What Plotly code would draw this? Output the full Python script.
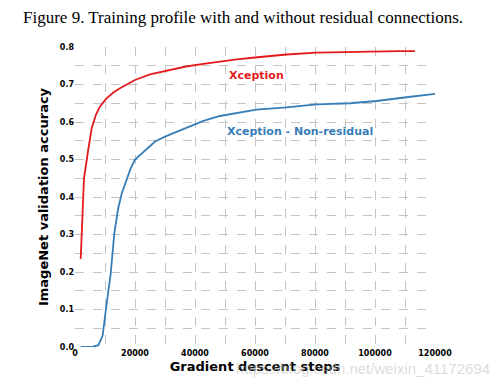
import plotly.graph_objects as go

# Xception (with residual connections)
res_steps = [1900, 3000, 4300, 5600, 7000, 8300, 10500, 13000, 15000, 17500, 20000, 25000,
             31700, 37000, 42800, 48000, 53900, 60000, 65000, 70500, 80500, 90000, 100000, 108000, 113300]
res_acc = [0.235, 0.45, 0.52, 0.585, 0.62, 0.641, 0.663, 0.68, 0.69, 0.702, 0.712, 0.727,
           0.739, 0.748, 0.755, 0.761, 0.767, 0.772, 0.776, 0.780, 0.785, 0.787, 0.788, 0.789, 0.789]

# Xception - Non-residual
nores_steps = [1900, 4000, 6000, 7800, 9200, 10300, 11900, 13100, 14400, 15600, 17200, 18500,
               20000, 22200, 24400, 26700, 30000, 33500, 37200, 42800, 48300, 56100, 60500,
               70500, 80500, 91700, 100500, 110500, 120000]
nores_acc = [0.0, 0.0, 0.001, 0.005, 0.03, 0.1, 0.196, 0.303, 0.37, 0.41, 0.447, 0.475,
             0.5, 0.516, 0.53, 0.548, 0.561, 0.573, 0.586, 0.603, 0.616, 0.627, 0.633,
             0.639, 0.647, 0.65, 0.656, 0.666, 0.675]

series_names = ["Xception", "Xception - Non-residual"]
series_colors = ["#e41a1c", "#377eb8"]

W, H = 494, 376
ML, MR, MT, MB = 67, 67, 39, 37
PW, PH = W - ML - MR, H - MT - MB

fig = go.Figure()
fig.add_trace(go.Scatter(x=res_steps, y=res_acc, mode="lines", name=series_names[0],
                         line=dict(color=series_colors[0], width=1.8)))
fig.add_trace(go.Scatter(x=nores_steps, y=nores_acc, mode="lines", name=series_names[1],
                         line=dict(color=series_colors[1], width=1.8)))

fig.add_annotation(x=50800, y=0.725, text="<b>Xception</b>", showarrow=False, xanchor="left",
                   font=dict(family="DejaVu Sans", size=11, color=series_colors[0]))
fig.add_annotation(x=50000, y=0.576, text="<b>Xception - Non-residual</b>", showarrow=False,
                   xanchor="left", font=dict(family="DejaVu Sans", size=11, color=series_colors[1]))

# figure caption (in page pixel terms: centre x~243, y~18)
fig.add_annotation(x=(243 - 8 - ML) / PW, y=1 + (MT - (18 - 8)) / PH, xref="paper", yref="paper",
                   text="Figure 9. Training profile with and without residual connections.",
                   showarrow=False, xanchor="center", yanchor="middle",
                   font=dict(family="Liberation Serif", size=17, color="black"))

grid = dict(showgrid=True, gridcolor="#c4c4c4", griddash="dash", gridwidth=1)

fig.update_xaxes(range=[0, 120000], dtick=20000, tickformat="d", zeroline=False, showline=False,
                 **grid, minor=dict(dtick=10000, showgrid=True, gridcolor="#c4c4c4", griddash="dash"),
                 tickfont=dict(family="DejaVu Sans", size=8, color="black", weight="bold"),
                 title=dict(text="<b>Gradient descent steps</b>", standoff=4,
                            font=dict(family="DejaVu Sans", size=13, color="black")))
fig.update_yaxes(range=[0, 0.8], dtick=0.1, tickformat=".1f", zeroline=False, showline=False,
                 **grid, minor=dict(dtick=0.05, showgrid=True, gridcolor="#c4c4c4", griddash="dash"),
                 tickfont=dict(family="DejaVu Sans", size=8, color="black", weight="bold"),
                 title=dict(text="<b>ImageNet validation accuracy</b>", standoff=8,
                            font=dict(family="DejaVu Sans", size=13, color="black")))

# faint source watermark
fig.add_annotation(x=(492 - 8 - ML) / PW, y=-(368 - 8 - (H - MB)) / PH, xref="paper", yref="paper",
                   xanchor="right", yanchor="middle", showarrow=False,
                   text="https://blog.csdn.net/weixin_41172694",
                   font=dict(family="Liberation Sans", size=15, color="rgba(190,190,190,0.55)"))

fig.update_layout(width=W, height=H, margin=dict(l=ML, r=MR, t=MT, b=MB),
                  plot_bgcolor="white", paper_bgcolor="white", showlegend=False)

fig.write_html("out.html")
